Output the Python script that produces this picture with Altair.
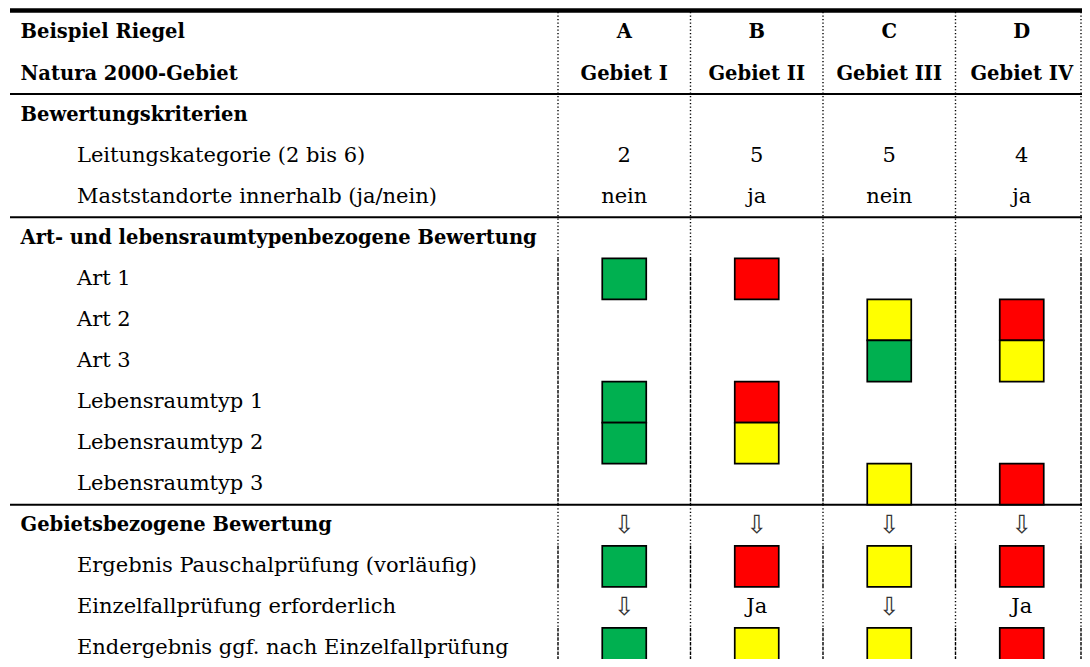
import altair as alt
import pandas as pd

# ---------------- data ----------------
row_labels = [
    "Beispiel Riegel",
    "Natura 2000-Gebiet",
    "Bewertungskriterien",
    "Leitungskategorie (2 bis 6)",
    "Maststandorte innerhalb (ja/nein)",
    "Art- und lebensraumtypenbezogene Bewertung",
    "Art 1",
    "Art 2",
    "Art 3",
    "Lebensraumtyp 1",
    "Lebensraumtyp 2",
    "Lebensraumtyp 3",
    "Gebietsbezogene Bewertung",
    "Ergebnis Pauschalprüfung (vorläufig)",
    "Einzelfallprüfung erforderlich",
    "Endergebnis ggf. nach Einzelfallprüfung",
]
row_bold = [True, True, True, False, False, True, False, False, False,
            False, False, False, True, False, False, False]

col_letters = ["A", "B", "C", "D"]
col_areas = ["Gebiet I", "Gebiet II", "Gebiet III", "Gebiet IV"]
leitungskategorie = ["2", "5", "5", "4"]
maststandorte = ["nein", "ja", "nein", "ja"]
gebiet_arrows = ["⇩", "⇩", "⇩", "⇩"]
einzelfall = ["⇩", "Ja", "⇩", "Ja"]

G, R, Y = "grün", "rot", "gelb"
art1 = [G, R, None, None]
art2 = [None, None, Y, R]
art3 = [None, None, G, Y]
lrt1 = [G, R, None, None]
lrt2 = [G, Y, None, None]
lrt3 = [None, None, Y, R]
pauschal = [G, R, Y, R]
endergebnis = [G, Y, Y, R]

rating_domain = [G, R, Y]
rating_colors = ["#00B050", "#FF0000", "#FFFF00"]

# ---------------- layout ----------------
W, H = 1074, 651
COL_PX = 132.5
ROW_PX = 41.07
XMIN = -550 / COL_PX
XMAX = XMIN + W / COL_PX
TABLE_LEFT = XMIN + 2 / COL_PX
YMIN = -3.9 / ROW_PX
YMAX = YMIN + H / ROW_PX
SQ_HALF = 22 / COL_PX

FONT = "DejaVu Serif"

labels = pd.DataFrame({
    "row": list(range(len(row_labels))),
    "label": row_labels,
    "bold": row_bold,
})
labels["y"] = labels["row"] + 0.5
labels["x"] = TABLE_LEFT

cell_rows = []
for r, vals, kind in [
    (0, col_letters, "bold"),
    (1, col_areas, "bold"),
    (3, leitungskategorie, "reg"),
    (4, maststandorte, "reg"),
    (12, gebiet_arrows, "reg"),
    (14, einzelfall, "reg"),
]:
    for c, v in enumerate(vals):
        k = "arrow" if v == "⇩" else kind
        cell_rows.append({"x": c + 0.5, "y": r + 0.5, "text": v, "kind": k})
cells = pd.DataFrame(cell_rows)

sq_rows = []
for r, vals in [(6, art1), (7, art2), (8, art3), (9, lrt1), (10, lrt2),
                (11, lrt3), (13, pauschal), (15, endergebnis)]:
    for c, v in enumerate(vals):
        if v is not None:
            sq_rows.append({"x": c + 0.5 - SQ_HALF, "x2": c + 0.5 + SQ_HALF,
                            "y": r, "y2": r + 1, "rating": v})
squares = pd.DataFrame(sq_rows)

# vertical separators: dashed where a row holds squares, dotted elsewhere
square_rows = set(squares["y"].tolist())
segs = []
n_rows = len(row_labels)
start = 0
cur = "dash" if 0 in square_rows else "dot"
for r in range(1, n_rows + 1):
    st = None if r == n_rows else ("dash" if r in square_rows else "dot")
    if st != cur:
        segs.append((start, r, cur))
        start, cur = r, st
vrows = []
for b in range(4):
    for s, e, st in segs:
        vrows.append({"x": b, "y": s, "y2": e, "style": st})
vlines = pd.DataFrame(vrows)
# right border of the table sits at the chart's right edge
edge = pd.DataFrame([{"x": XMAX, "y": s, "y2": e, "style": st} for s, e, st in segs])

hthin = pd.DataFrame({"y": [2, 5, 12], "x": TABLE_LEFT, "x2": XMAX})
hthick = pd.DataFrame({"y": [0], "x": TABLE_LEFT, "x2": XMAX})

xs = alt.Scale(domain=[XMIN, XMAX], nice=False, zero=False)
ys = alt.Scale(domain=[YMIN, YMAX], nice=False, zero=False, reverse=True)


def X(f="x"):
    return alt.X(f"{f}:Q", scale=xs, axis=None)


def Yc(f="y"):
    return alt.Y(f"{f}:Q", scale=ys, axis=None)


dash_enc = alt.StrokeDash("style:N", scale=alt.Scale(
    domain=["dot", "dash"], range=[[1.3, 2.2], [3.5, 1.2]]), legend=None)

vl = alt.Chart(vlines).mark_rule(strokeWidth=1.4, color="black").encode(
    x=X(), y=Yc(), y2="y2:Q", strokeDash=dash_enc)
ve = alt.Chart(edge).mark_rule(strokeWidth=1.4, color="black", xOffset=-1).encode(
    x=X(), y=Yc(), y2="y2:Q", strokeDash=dash_enc)

hl = alt.Chart(hthin).mark_rule(strokeWidth=2, color="black").encode(
    x=X(), x2="x2:Q", y=Yc())
hk = alt.Chart(hthick).mark_rule(strokeWidth=4.5, color="black", yOffset=-1.4).encode(
    x=X(), x2="x2:Q", y=Yc())

sq = alt.Chart(squares).mark_rect(stroke="black", strokeWidth=1.7).encode(
    x=X(), x2="x2:Q", y=Yc(), y2="y2:Q",
    color=alt.Color("rating:N", scale=alt.Scale(domain=rating_domain, range=rating_colors),
                    legend=None),
)

lab_b = alt.Chart(labels[labels["bold"]]).mark_text(
    align="left", baseline="middle", dx=10.5, font=FONT, fontSize=19.5,
    fontWeight="bold", color="black").encode(x=X(), y=Yc(), text="label:N")
lab_r = alt.Chart(labels[~labels["bold"]]).mark_text(
    align="left", baseline="middle", dx=67, font=FONT, fontSize=21,
    color="black").encode(x=X(), y=Yc(), text="label:N")

cell_b = alt.Chart(cells[cells["kind"] == "bold"]).mark_text(
    align="center", baseline="middle", font=FONT, fontSize=19.5, fontWeight="bold",
    color="black").encode(x=X(), y=Yc(), text="text:N")
cell_r = alt.Chart(cells[cells["kind"] == "reg"]).mark_text(
    align="center", baseline="middle", font=FONT, fontSize=21,
    color="black").encode(x=X(), y=Yc(), text="text:N")
cell_a = alt.Chart(cells[cells["kind"] == "arrow"]).mark_text(
    align="center", baseline="middle", font="DejaVu Sans", fontSize=25,
    color="#333333").encode(x=X(), y=Yc(), text="text:N")

chart = alt.layer(vl, ve, sq, hl, hk, lab_b, lab_r, cell_b, cell_r, cell_a).properties(
    width=W, height=H,
    autosize=alt.AutoSizeParams(type="none"),
    padding=0,
    background="white",
).configure_view(stroke=None)

chart.save("out.html", embed_options={"renderer": "svg", "actions": False})
